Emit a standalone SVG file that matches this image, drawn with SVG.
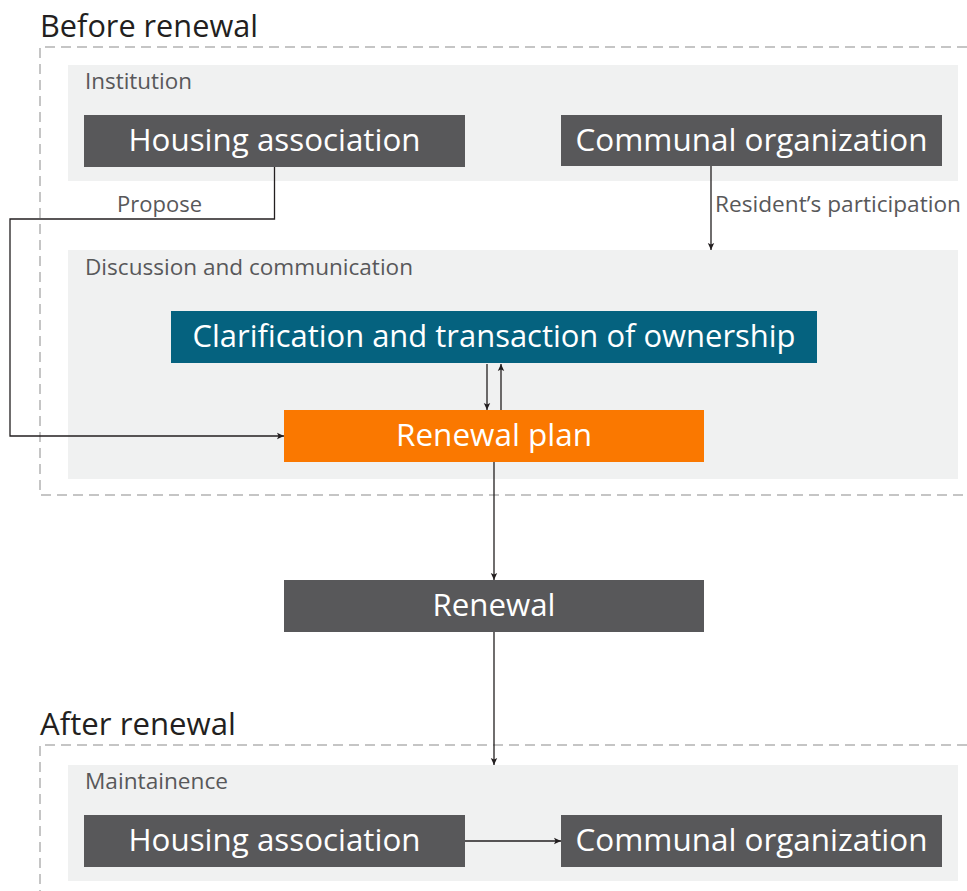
<svg xmlns="http://www.w3.org/2000/svg" width="967" height="891" viewBox="0 0 967 891">
<style>
.title{font-family:"Open Sans","Liberation Sans",sans-serif;font-size:30.5px;fill:#231f20}
.lbl{font-family:"Open Sans","Liberation Sans",sans-serif;font-size:21px;fill:#58585a}
.nt{font-family:"Open Sans","Liberation Sans",sans-serif;font-size:31px;fill:#ffffff;text-anchor:middle}
.dash{fill:none;stroke:#b3b3b3;stroke-width:1.5;stroke-dasharray:10 6}
.panel{fill:#f0f1f1}
.dark{fill:#58585a}
.blue{fill:#05627f}
.orange{fill:#fa7800}
.con{fill:none;stroke:#231f20;stroke-width:1.3}
</style>
<defs>
<marker id="ah" viewBox="0 0 8 8" refX="7" refY="4" markerWidth="8" markerHeight="8" markerUnits="userSpaceOnUse" orient="auto">
<path d="M0,0.8 L7,4 L0,7.2 L1.5,4 Z" fill="#231f20"/>
</marker>
</defs>
<g id="before">
<path class="dash" d="M967,47 H40 V495 H967"/>
<text class="title" x="40" y="37" textLength="218" lengthAdjust="spacingAndGlyphs">Before renewal</text>
</g>
<g id="institution">
<rect class="panel" x="68" y="65" width="890" height="116"/>
<text class="lbl" x="85" y="89" textLength="107" lengthAdjust="spacingAndGlyphs">Institution</text>
</g>
<g id="discussion">
<rect class="panel" x="68" y="250" width="890" height="229"/>
<text class="lbl" x="85" y="275" textLength="328" lengthAdjust="spacingAndGlyphs">Discussion and communication</text>
</g>
<g id="after">
<path class="dash" d="M967,745 H40 V891"/>
<text class="title" x="40" y="735" textLength="196" lengthAdjust="spacingAndGlyphs">After renewal</text>
</g>
<g id="maintainence">
<rect class="panel" x="68" y="765" width="890" height="116"/>
<text class="lbl" x="85" y="789" textLength="143" lengthAdjust="spacingAndGlyphs">Maintainence</text>
</g>
<g id="housing1">
<rect class="dark" x="84" y="115" width="381" height="52"/>
<text class="nt" x="274.5" y="151" textLength="292" lengthAdjust="spacingAndGlyphs">Housing association</text>
</g>
<g id="communal1">
<rect class="dark" x="561" y="115" width="381" height="51"/>
<text class="nt" x="751.5" y="151" textLength="352" lengthAdjust="spacingAndGlyphs">Communal organization</text>
</g>
<g id="clarification">
<rect class="blue" x="171" y="311" width="646" height="52"/>
<text class="nt" x="494" y="347" textLength="603" lengthAdjust="spacingAndGlyphs">Clarification and transaction of ownership</text>
</g>
<g id="renewalplan">
<rect class="orange" x="284" y="410" width="420" height="52"/>
<text class="nt" x="494" y="446" textLength="196" lengthAdjust="spacingAndGlyphs">Renewal plan</text>
</g>
<g id="renewal">
<rect class="dark" x="284" y="580" width="420" height="52"/>
<text class="nt" x="494" y="616" textLength="123" lengthAdjust="spacingAndGlyphs">Renewal</text>
</g>
<g id="housing2">
<rect class="dark" x="84" y="815" width="381" height="52"/>
<text class="nt" x="274.5" y="851" textLength="292" lengthAdjust="spacingAndGlyphs">Housing association</text>
</g>
<g id="communal2">
<rect class="dark" x="561" y="815" width="381" height="52"/>
<text class="nt" x="751.5" y="851" textLength="352" lengthAdjust="spacingAndGlyphs">Communal organization</text>
</g>
<g id="connectors">
<path class="con" d="M274.5,167 V219 H10 V436 H284" marker-end="url(#ah)"/>
<text class="lbl" x="117" y="212" textLength="85" lengthAdjust="spacingAndGlyphs">Propose</text>
<path class="con" d="M711,166 V250" marker-end="url(#ah)"/>
<text class="lbl" x="715" y="212" textLength="246" lengthAdjust="spacingAndGlyphs">Resident’s participation</text>
<path class="con" d="M487,364 V410" marker-end="url(#ah)"/>
<path class="con" d="M501,410 V364" marker-end="url(#ah)"/>
<path class="con" d="M494,462 V580" marker-end="url(#ah)"/>
<path class="con" d="M494,632 V765" marker-end="url(#ah)"/>
<path class="con" d="M465,841 H561" marker-end="url(#ah)"/>
</g>
</svg>
